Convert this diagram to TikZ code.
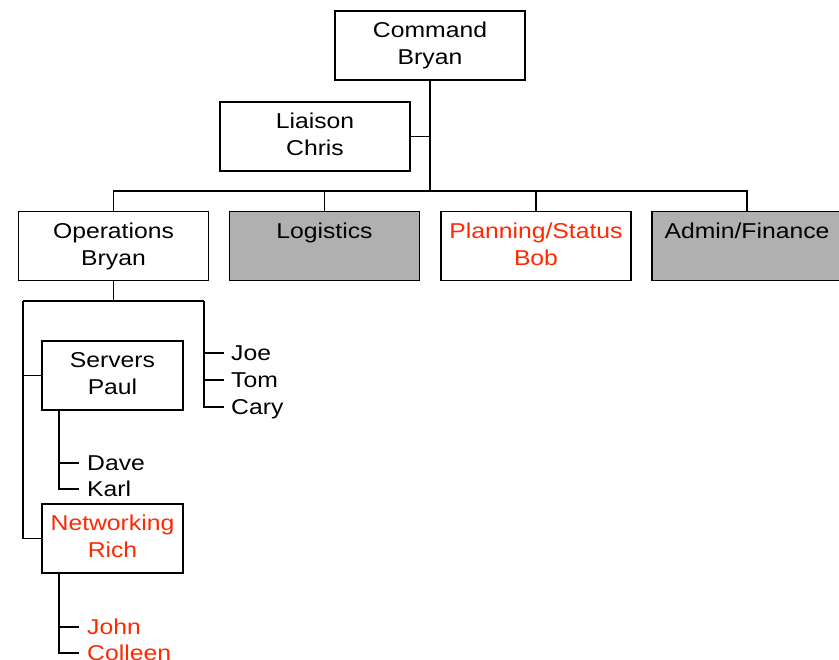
\documentclass[tikz,border=0pt]{standalone}
\usepackage{fontspec}
\setmainfont{Liberation Sans}[FakeStretch=1.15]
\usepackage{tikz}

\definecolor{unitgray}{RGB}{176,176,176}
\definecolor{leadred}{RGB}{255,40,0}

\tikzset{
  unit/.style={draw, line width=1.3pt, minimum width=190pt, minimum height=69pt,
    inner sep=0pt, align=center, text height=43pt, text depth=4.5pt},
  subunit/.style={unit, minimum width=141pt},
  vacant/.style={fill=unitgray},
  member/.style={anchor=west, inner sep=0pt, text height=15.4pt, text depth=0pt},
  link/.style={line width=1.3pt}
}

\begin{document}
\begin{tikzpicture}[x=1pt, y=1pt, font=\fontsize{21.5}{27}\selectfont]
\useasboundingbox (0,0) rectangle (839,-660);
% top of the chart
\node[unit] (command) at (430,-45.5) {Command\\Bryan};
\node[unit] (liaison) at (315,-136.5) {Liaison\\Chris};
\coordinate (bus) at (430,-191);
\draw[link] (command.south) -- (bus);
\draw[link] (liaison.east) -- (liaison.east -| command.south);

% sections
\node[unit] (ops) at (113.5,-246) {Operations\\Bryan};
\node[unit, vacant] (log) at (324.5,-246) {Logistics\\\mbox{}};
\node[unit, text=leadred] (plan) at (536,-246) {Planning/Status\\Bob};
\node[unit, vacant] (admin) at (747,-246) {Admin/Finance\\\mbox{}};
\draw[link] (ops.north) |- (bus) -| (admin.north);
\draw[link] (log.north) -- (log.north |- bus);
\draw[link] (plan.north) -- (plan.north |- bus);

% operations
\coordinate (opsbus) at (113.5,-301);
\coordinate (opsleft) at (23,-301);
\coordinate (opsright) at (204,-301);
\draw[link] (ops.south) -- (opsbus);
\draw[link] (opsleft) -- (opsright);
\node[subunit] (servers) at (112.5,-375.5) {Servers\\Paul};
\node[subunit, text=leadred] (net) at (112.5,-538.5) {Networking\\Rich};
\draw[link] (opsleft) |- (net.west);
\draw[link] (servers.west) -- (servers.west -| opsleft);

% staff under operations
\node[member] (joe) at (231,-353) {Joe};
\node[member] (tom) at (231,-380) {Tom};
\node[member] (cary) at (231,-407) {Cary};
\draw[link] (opsright) |- ([xshift=-7pt]cary.west);
\foreach \who in {joe,tom}
  \draw[link] (\who.west -| opsright) -- ([xshift=-7pt]\who.west);

% staff under servers
\coordinate (srvstem) at ([xshift=-53.5pt]servers.south);
\node[member] (dave) at (87,-463) {Dave};
\node[member] (karl) at (87,-489) {Karl};
\draw[link] (srvstem) |- ([xshift=-8pt]karl.west);
\draw[link] (dave.west -| srvstem) -- ([xshift=-8pt]dave.west);

% staff under networking
\coordinate (netstem) at ([xshift=-53.5pt]net.south);
\node[member, text=leadred] (john) at (87,-627) {John};
\node[member, text=leadred] (colleen) at (87,-653) {Colleen};
\draw[link] (netstem) |- ([xshift=-8pt]colleen.west);
\draw[link] (john.west -| netstem) -- ([xshift=-8pt]john.west);
\end{tikzpicture}
\end{document}
